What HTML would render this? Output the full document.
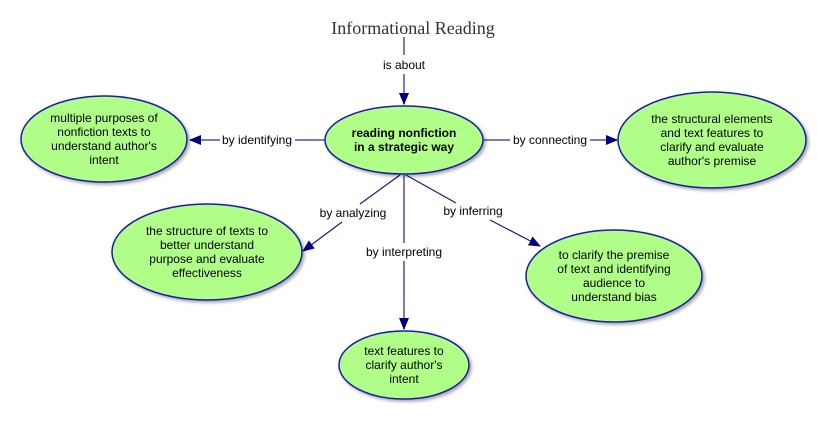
<!DOCTYPE html>
<html><head><meta charset="utf-8"><style>
body{margin:0;background:#fff;}
svg{display:block}
text{font-family:"Liberation Sans",Arial,sans-serif;font-size:12px;fill:#000;text-anchor:middle}
</style></head><body>
<svg width="817" height="447" viewBox="0 0 817 447" xmlns="http://www.w3.org/2000/svg">
<defs>
<marker id="a" markerWidth="12" markerHeight="10" refX="11" refY="5" orient="auto" markerUnits="userSpaceOnUse">
<path d="M0,0 L12,5 L0,10 Z" fill="#000080"/></marker>
<filter id="s" x="-10%" y="-10%" width="130%" height="130%"><feDropShadow dx="2" dy="2" stdDeviation="1.5" flood-color="#000" flood-opacity="0.35"/></filter>
</defs>
<text x="413" y="34" style="font-family:'Liberation Serif',serif;font-size:18px;fill:#333">Informational Reading</text>
<!-- connectors -->
<g stroke="#7b7bc0" stroke-width="2" fill="none">
<line x1="404" y1="37" x2="404" y2="55"/>
<line x1="404" y1="74" x2="404" y2="104" marker-end="url(#a)"/>
<line x1="325" y1="140" x2="295" y2="140"/>
<line x1="220" y1="140" x2="190" y2="140" marker-end="url(#a)"/>
<line x1="484" y1="140" x2="510" y2="140"/>
<line x1="590" y1="140" x2="617" y2="140" marker-end="url(#a)"/>
<line x1="404" y1="175" x2="404" y2="243"/>
<line x1="404" y1="261" x2="404" y2="329" marker-end="url(#a)"/>
</g>
<g stroke="#1a1a80" stroke-width="1.2" fill="none">
<line x1="400" y1="175" x2="360" y2="204"/>
<line x1="342" y1="222" x2="303" y2="251" marker-end="url(#a)"/>
<line x1="406" y1="175" x2="456" y2="203"/>
<line x1="490" y1="220" x2="540" y2="246" marker-end="url(#a)"/>
</g>
<text x="404" y="69">is about</text>
<text x="257" y="144">by identifying</text>
<text x="550" y="144">by connecting</text>
<text x="353" y="217">by analyzing</text>
<text x="473" y="215">by inferring</text>
<text x="404" y="256">by interpreting</text>
<!-- nodes -->
<g fill="#b0ff88" stroke="#1a1aaa" stroke-width="1.5" filter="url(#s)">
<ellipse cx="404" cy="140" rx="79" ry="34"/>
<ellipse cx="104" cy="139" rx="83" ry="43"/>
<ellipse cx="712" cy="140" rx="94" ry="48"/>
<ellipse cx="207" cy="252" rx="95" ry="48"/>
<ellipse cx="614" cy="276" rx="88" ry="46"/>
<ellipse cx="404" cy="365" rx="65" ry="34"/>
</g>
<text x="404" y="137" style="font-weight:bold">reading nonfiction</text>
<text x="404" y="151" style="font-weight:bold">in a strategic way</text>
<text x="104" y="122">multiple purposes of</text>
<text x="104" y="136">nonfiction texts to</text>
<text x="104" y="150">understand author's</text>
<text x="104" y="164">intent</text>
<text x="712" y="123">the structural elements</text>
<text x="712" y="137">and text features to</text>
<text x="712" y="151">clarify and evaluate</text>
<text x="712" y="165">author's premise</text>
<text x="207" y="235">the structure of texts to</text>
<text x="207" y="249">better understand</text>
<text x="207" y="263">purpose and evaluate</text>
<text x="207" y="277">effectiveness</text>
<text x="614" y="259">to clarify the premise</text>
<text x="614" y="273">of text and identifying</text>
<text x="614" y="287">audience to</text>
<text x="614" y="301">understand bias</text>
<text x="404" y="355">text features to</text>
<text x="404" y="369">clarify author's</text>
<text x="404" y="383">intent</text>
</svg>
</body></html>
